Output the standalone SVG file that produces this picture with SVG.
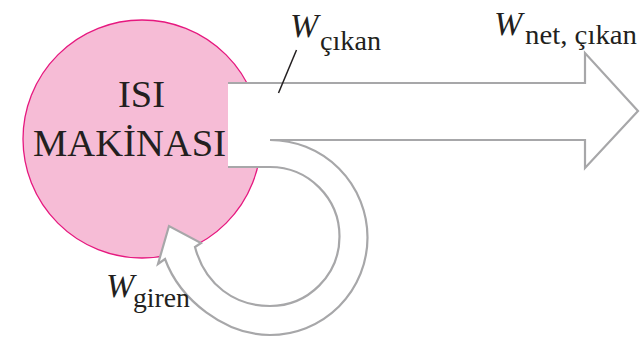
<svg xmlns="http://www.w3.org/2000/svg" width="641" height="343" viewBox="0 0 641 343">
  <style>
    text { font-family: 'Liberation Serif', 'Times New Roman', Times, 'DejaVu Serif', 'Noto Serif', FreeSerif, 'Tinos', serif; fill: #231f20; }
    .main { font-size: 37px; text-anchor: middle; }
    .w { font-size: 34px; font-style: italic; }
    .sub { font-size: 27px; }
    .band { fill: #ffffff; stroke: #a7a7a9; stroke-width: 2.2; stroke-linejoin: miter; }
  </style>
  <rect width="641" height="343" fill="#ffffff"/>
  <g id="engine">
    <circle cx="142" cy="139" r="119" fill="#f6bcd6" stroke="#e6187f" stroke-width="1.3"/>
  </g>
  <g id="connectors">
    <path class="band" d="M228,83 H585 V53 L638,111 L585,168 V140 H270 A97.5,97.5 0 0 1 270,335 C225,335 180,300 165,259 L158,264 L169,226 L201,243 L195,247 C205,285 235,306 270,306 A69.5,69.5 0 0 0 270,167 H228"/>
    <line x1="296.5" y1="50" x2="278.5" y2="93" stroke="#231f20" stroke-width="1.5"/>
  </g>
  <g id="engine-label">
    <text class="main" x="141.5" y="107" textLength="47" lengthAdjust="spacingAndGlyphs">ISI</text>
    <text class="main" x="129.5" y="156" textLength="193" lengthAdjust="spacingAndGlyphs">MAKİNASI</text>
  </g>
  <g id="w-out">
    <text class="w" x="290" y="37">W</text>
    <text class="sub" x="320" y="50" textLength="61" lengthAdjust="spacingAndGlyphs">çıkan</text>
  </g>
  <g id="w-net">
    <text class="w" x="494" y="35">W</text>
    <text class="sub" x="525" y="44" textLength="112" lengthAdjust="spacingAndGlyphs">net, çıkan</text>
  </g>
  <g id="w-in">
    <text class="w" x="106" y="297">W</text>
    <text class="sub" x="133" y="307" textLength="57" lengthAdjust="spacingAndGlyphs">giren</text>
  </g>
</svg>
